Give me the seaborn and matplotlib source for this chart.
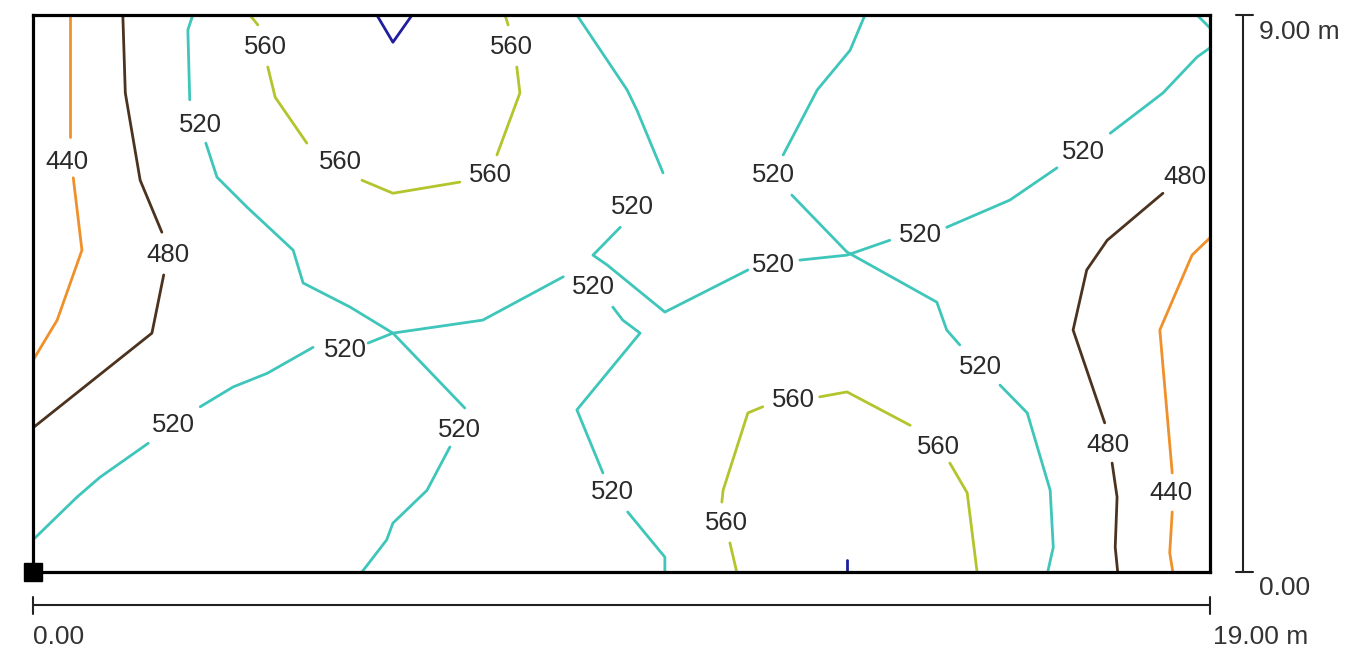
import pandas as pd
import numpy as np
import matplotlib.pyplot as plt
import seaborn as sns

# medidas de la sala (m)
largo = 19.0
ancho = 9.0

# isolineas: cada tramo es una lista de puntos (x, y) en metros
iso_440 = [
    [(0.60, 9.00), (0.60, 7.03)],
    [(0.65, 6.37), (0.79, 5.20), (0.39, 4.07), (0.00, 3.42)],
    [(19.0, 5.40), (18.71, 5.12), (18.19, 3.91), (18.39, 1.60)],
    [(18.39, 0.97), (18.35, 0.31), (18.40, 0.00)],
]

iso_480 = [
    [(1.45, 9.00), (1.49, 7.74), (1.73, 6.33), (2.08, 5.49)],
    [(2.11, 4.80), (1.92, 3.86), (0.00, 2.33)],
    [(18.24, 6.12), (17.34, 5.36), (17.01, 4.88), (16.79, 3.91), (17.30, 2.41)],
    [(17.42, 1.76), (17.50, 1.21), (17.47, 0.40), (17.51, 0.00)],
]

iso_520 = [
    # linea que baja desde arriba a la izquierda
    [(2.58, 9.00), (2.50, 8.76), (2.53, 7.63)],
    [(2.79, 6.93), (2.97, 6.38), (3.45, 5.90), (4.20, 5.20), (4.36, 4.67),
     (5.12, 4.28), (5.81, 3.86), (6.97, 2.65)],
    [(6.73, 2.02), (6.36, 1.32), (5.81, 0.79), (5.71, 0.52), (5.31, 0.00)],
    # diagonal desde abajo a la izquierda
    [(0.00, 0.52), (0.71, 1.21), (1.08, 1.53), (1.86, 2.08)],
    [(2.70, 2.67), (3.23, 2.99), (3.78, 3.21), (4.52, 3.63)],
    [(5.41, 3.70), (5.81, 3.86), (7.26, 4.07), (8.56, 4.77)],
    [(9.36, 4.28), (9.52, 4.07), (9.80, 3.86), (8.78, 2.62), (9.20, 1.60)],
    [(9.60, 0.97), (10.20, 0.24), (10.20, 0.00)],
    # desde arriba al centro hacia la derecha
    [(8.78, 9.00), (9.59, 7.79), (9.75, 7.46), (10.17, 6.45)],
    [(9.48, 5.57), (9.04, 5.12), (9.27, 4.96), (10.20, 4.20), (11.54, 4.88)],
    [(12.38, 5.04), (13.14, 5.12), (13.83, 5.36)],
    [(14.75, 5.57), (15.77, 6.01), (16.53, 6.53)],
    [(17.39, 7.09), (18.24, 7.74), (18.79, 8.32), (19.0, 8.47)],
    [(18.79, 9.00), (19.0, 8.79)],
    # desde arriba a la derecha hacia abajo
    [(13.43, 9.00), (13.19, 8.43), (12.66, 7.79), (12.43, 7.35), (12.11, 6.74)],
    [(12.25, 6.09), (13.14, 5.17), (14.59, 4.36), (14.75, 3.91), (14.96, 3.67)],
    [(15.61, 3.02), (16.05, 2.57), (16.42, 1.32), (16.47, 0.40), (16.38, 0.00)],
]

iso_560 = [
    [(3.50, 9.00), (3.63, 8.84)],
    [(3.79, 8.16), (3.91, 7.67), (4.42, 6.93)],
    [(5.31, 6.33), (5.81, 6.12), (6.89, 6.30)],
    [(7.49, 6.74), (7.86, 7.74), (7.81, 8.16)],
    [(7.67, 8.84), (7.62, 9.00)],
    [(11.36, 0.00), (11.25, 0.47)],
    [(11.12, 1.13), (11.14, 1.32), (11.54, 2.57), (11.78, 2.67)],
    [(12.70, 2.83), (13.14, 2.91), (14.16, 2.37)],
    [(14.80, 1.76), (15.08, 1.28), (15.24, 0.00)],
]

iso_600 = [
    [(5.55, 9.00), (5.81, 8.56), (6.12, 9.00)],
    [(13.14, 0.19), (13.14, 0.00)],
]

# etiquetas de las isolineas
etiqueta_x = [0.55, 18.37, 2.18, 18.60, 17.35,
              2.70, 6.89, 2.26, 5.04, 9.04, 9.36, 9.67, 11.95, 14.32, 16.95, 11.95, 15.29,
              3.75, 4.96, 7.38, 7.73, 11.20, 12.27, 14.61]
etiqueta_y = [6.62, 1.28, 5.12, 6.38, 2.05,
              7.22, 2.29, 2.37, 3.59, 4.60, 1.29, 5.90, 4.96, 5.44, 6.79, 6.41, 3.31,
              8.48, 6.62, 6.41, 8.48, 0.79, 2.78, 2.02]
etiqueta_txt = ["440", "440", "480", "480", "480",
                "520", "520", "520", "520", "520", "520", "520", "520", "520", "520", "520", "520",
                "560", "560", "560", "560", "560", "560", "560"]

colores = {
    "440": "#f0902a",
    "480": "#4b3320",
    "520": "#3ec6bb",
    "560": "#b3c42c",
    "600": "#1f1f9e",
}

filas = []
tramo = 0
for nivel, tramos in [("440", iso_440), ("480", iso_480), ("520", iso_520),
                      ("560", iso_560), ("600", iso_600)]:
    for t in tramos:
        for orden, (x, y) in enumerate(t):
            filas.append({"x": x, "y": y, "nivel": nivel, "tramo": tramo, "orden": orden})
        tramo += 1
df = pd.DataFrame(filas)

sns.set_style("white")
plt.rcParams["font.family"] = ["Liberation Sans", "DejaVu Sans"]

fig = plt.figure(figsize=(13.52, 6.52), dpi=100)
ax = fig.add_axes([33 / 1352, 80 / 652, 1177 / 1352, 557 / 652])

sns.lineplot(data=df, x="x", y="y", hue="nivel", units="tramo", estimator=None,
             sort=False, palette=colores, legend=False, lw=2.0, ax=ax)

for x, y, t in zip(etiqueta_x, etiqueta_y, etiqueta_txt):
    ax.text(x, y, t, ha="center", va="center", fontsize=18.5, color="#2a2a2a")

ax.set_xlim(0, largo)
ax.set_ylim(0, ancho)
ax.set_xticks([])
ax.set_yticks([])
ax.set_xlabel("")
ax.set_ylabel("")
for s in ax.spines.values():
    s.set_color("black")
    s.set_linewidth(2.3)

# cotas
c = "#222222"
ax.plot([19.53, 19.53], [0, ancho], color=c, lw=1.5, clip_on=False)
ax.plot([19.42, 19.69], [ancho, ancho], color=c, lw=1.5, clip_on=False)
ax.plot([19.42, 19.69], [0, 0], color=c, lw=1.5, clip_on=False)
ax.plot([0, largo], [-0.53, -0.53], color=c, lw=1.5, clip_on=False)
ax.plot([0, 0], [-0.40, -0.68], color=c, lw=1.5, clip_on=False)
ax.plot([largo, largo], [-0.40, -0.68], color=c, lw=1.5, clip_on=False)
ax.text(19.79, 8.72, f"{ancho:.2f} m", ha="left", va="center", fontsize=19, color="#333333")
ax.text(19.79, -0.26, "0.00", ha="left", va="center", fontsize=19, color="#333333")
ax.text(0, -1.05, "0.00", ha="left", va="center", fontsize=19, color="#333333", clip_on=False)
ax.text(19.05, -1.05, f"{largo:.2f} m", ha="left", va="center", fontsize=19, color="#333333")

# origen
ax.plot([0], [0], marker="s", ms=13.5, color="black", clip_on=False)

fig.savefig("out.png", dpi=100)
